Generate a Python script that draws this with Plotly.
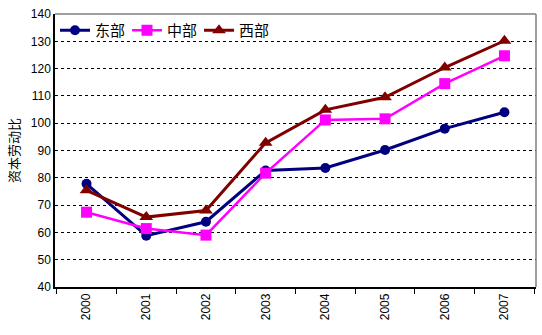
import plotly.graph_objects as go

years = ["2000", "2001", "2002", "2003", "2004", "2005", "2006", "2007"]
east = [77.8, 58.8, 63.9, 82.7, 83.6, 90.2, 98.0, 104.0]
central = [67.4, 61.4, 59.0, 81.7, 101.2, 101.6, 114.5, 124.7]
west = [75.4, 65.6, 68.0, 92.8, 104.9, 109.5, 120.4, 130.2]

series = [
    ("东部", east, "#000080", "circle", 3, 10),
    ("中部", central, "#FF00FF", "square", 2.5, 11),
    ("西部", west, "#800000", "triangle-up", 3, 12),
]

fig = go.Figure()
for name, vals, color, sym, lw, ms in series:
    fig.add_trace(go.Scatter(
        x=years, y=vals, name=name, mode="lines+markers",
        line=dict(color=color, width=lw),
        marker=dict(symbol=sym, size=ms, color=color),
    ))

fig.update_layout(
    width=542, height=335,
    margin=dict(l=55, r=6, t=14, b=48),
    paper_bgcolor="white", plot_bgcolor="white",
    font=dict(family="Liberation Sans, Arial", size=12, color="black"),
    showlegend=True,
    legend=dict(
        orientation="h", x=0.0, y=1.0, xanchor="left", yanchor="top",
        font=dict(family="Noto Sans CJK SC", size=15),
        bgcolor="rgba(0,0,0,0)", itemwidth=30, tracegroupgap=0,
        entrywidth=27, entrywidthmode="pixels",
    ),
    xaxis=dict(
        type="category", tickangle=-90, tickson="boundaries",
        ticks="outside", ticklen=5, tickcolor="black",
        showline=True, linecolor="black", linewidth=1.5,
        showgrid=False, mirror=False,
    ),
    yaxis=dict(
        range=[40, 140], dtick=10, ticks="",
        showline=True, linecolor="black", linewidth=1.5,
        showgrid=True, gridcolor="black", griddash="3px,3px", gridwidth=1,
        zeroline=False,
        title=dict(text="资本劳动比", font=dict(family="Noto Sans CJK SC", size=13), standoff=8),
    ),
)

# gray frame on the top and right sides of the plotting area
fig.add_shape(type="line", xref="paper", yref="paper", x0=0, x1=1, y0=1, y1=1,
              line=dict(color="#808080", width=1.5))
fig.add_shape(type="line", xref="paper", yref="paper", x0=1, x1=1, y0=0, y1=1,
              line=dict(color="#808080", width=1.5))

fig.write_html("out.html")
